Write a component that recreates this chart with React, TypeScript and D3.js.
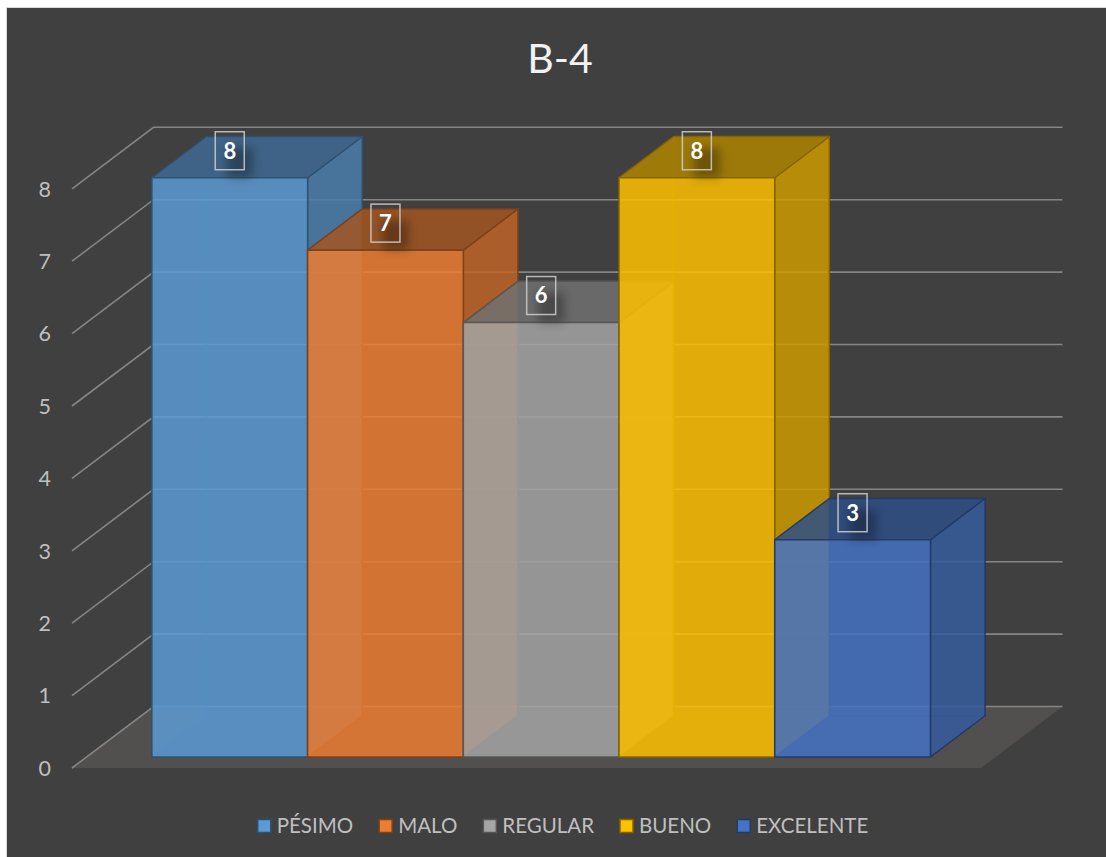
import React, { useEffect, useRef } from "react";
import * as d3 from "d3";

const categories = ["PÉSIMO", "MALO", "REGULAR", "BUENO", "EXCELENTE"];
const values = [8, 7, 6, 8, 3];
const yTicks = [0, 1, 2, 3, 4, 5, 6, 7, 8];
const title = "B-4";
const accents = ["#5B9BD5", "#ED7D31", "#A5A5A5", "#FFC000", "#4472C4"];

const W = 1106;
const H = 857;
const DX = 81.5;
const DY = 61.5;
const Z0 = 0.18;
const Z1 = 0.85;
const FONT = "Lato, 'Open Sans', sans-serif";

function shade(c: string, k: number) {
  const r = d3.rgb(c);
  return d3.rgb(r.r * k, r.g * k, r.b * k).formatHex();
}

export default function App() {
  const ref = useRef<SVGSVGElement>(null);

  useEffect(() => {
    const svg = d3.select(ref.current);
    svg.selectAll("*").remove();

    const defs = svg.append("defs");
    defs
      .append("filter")
      .attr("id", "blur")
      .attr("x", "-50%")
      .attr("y", "-50%")
      .attr("width", "200%")
      .attr("height", "200%")
      .append("feGaussianBlur")
      .attr("stdDeviation", 5);

    // chart area
    svg
      .append("rect")
      .attr("x", 6.5)
      .attr("y", 7.5)
      .attr("width", W)
      .attr("height", H)
      .attr("fill", "#404040")
      .attr("stroke", "#d9d9d9")
      .attr("stroke-width", 1);

    const x = d3
      .scaleBand<string>()
      .domain(categories)
      .range([72, 981])
      .paddingInner(0)
      .paddingOuter(0.419);
    const y = d3.scaleLinear().domain([0, 8]).range([768, 768 - 8 * 72.4]);
    const [xmin, xmax] = x.range();
    const proj = (px: number, v: number, z: number): [number, number] => [
      px + z * DX,
      y(v) - z * DY,
    ];
    const poly = (pts: [number, number][]) =>
      "M" + pts.map((p) => p.join(",")).join("L") + "Z";

    // floor
    svg
      .append("path")
      .attr(
        "d",
        poly([proj(xmin, 0, 0), proj(xmax, 0, 0), proj(xmax, 0, 1), proj(xmin, 0, 1)])
      )
      .attr("fill", "#524f4f");

    // gridlines
    const line = d3.line();
    svg
      .append("g")
      .selectAll("path")
      .data(yTicks)
      .join("path")
      .attr("d", (t) =>
        line([proj(xmin, t, 0), proj(xmin, t, 1), proj(xmax, t, 1)])
      )
      .attr("fill", "none")
      .attr("stroke", "#858585")
      .attr("stroke-width", 1.6);

    // y labels
    svg
      .append("g")
      .selectAll("text")
      .data(yTicks)
      .join("text")
      .attr("x", 51)
      .attr("y", (t) => y(t))
      .attr("dy", "0.36em")
      .attr("text-anchor", "end")
      .attr("font-family", FONT)
      .attr("font-size", 21.5)
      .attr("fill", "#bfbfbf")
      .text((t) => String(t));

    // bars
    categories.forEach((c, i) => {
      const v = values[i];
      const x0 = x(c)!;
      const x1 = x0 + x.bandwidth();
      const acc = accents[i];
      const g = svg.append("g");
      const P = (px: number, pv: number, z: number) => proj(px, pv, z);
      const faces: { pts: [number, number][]; fill: string; op: number; so: number }[] = [
        { pts: [P(x0, 0, Z1), P(x1, 0, Z1), P(x1, v, Z1), P(x0, v, Z1)], fill: shade(acc, 0.8), op: 0.12, so: 0.35 },
        { pts: [P(x0, 0, Z0), P(x0, 0, Z1), P(x0, v, Z1), P(x0, v, Z0)], fill: shade(acc, 0.9), op: 0.12, so: 0.35 },
        { pts: [P(x0, 0, Z0), P(x1, 0, Z0), P(x1, 0, Z1), P(x0, 0, Z1)], fill: shade(acc, 0.8), op: 0.12, so: 0.35 },
        { pts: [P(x1, 0, Z0), P(x1, 0, Z1), P(x1, v, Z1), P(x1, v, Z0)], fill: shade(acc, 0.8), op: 0.83, so: 0.95 },
        { pts: [P(x0, v, Z0), P(x1, v, Z0), P(x1, v, Z1), P(x0, v, Z1)], fill: shade(acc, 0.68), op: 0.83, so: 0.95 },
        { pts: [P(x0, 0, Z0), P(x1, 0, Z0), P(x1, v, Z0), P(x0, v, Z0)], fill: acc, op: 0.83, so: 0.95 },
      ];
      g.selectAll("path")
        .data(faces)
        .join("path")
        .attr("d", (f) => poly(f.pts))
        .attr("fill", (f) => f.fill)
        .attr("fill-opacity", (f) => f.op)
        .attr("stroke", shade(acc, 0.52))
        .attr("stroke-opacity", (f) => f.so)
        .attr("stroke-width", 1.5)
        .attr("stroke-linejoin", "round");
    });

    // data labels
    categories.forEach((c, i) => {
      const v = values[i];
      const cx = x(c)! + x.bandwidth() / 2 + Z0 * DX;
      const cy = y(v) - Z0 * DY - 27;
      const g = svg.append("g");
      g.append("rect")
        .attr("x", cx - 12 + 9)
        .attr("y", cy - 15 + 12)
        .attr("width", 26)
        .attr("height", 30)
        .attr("fill", "#000")
        .attr("opacity", 0.3)
        .attr("filter", "url(#blur)");
      g.append("rect")
        .attr("x", cx - 14.5)
        .attr("y", cy - 19)
        .attr("width", 29)
        .attr("height", 38)
        .attr("fill", "none")
        .attr("stroke", "#cfcfcf")
        .attr("stroke-opacity", 0.85)
        .attr("stroke-width", 1.5);
      g.append("text")
        .attr("x", cx)
        .attr("y", cy)
        .attr("dy", "0.36em")
        .attr("text-anchor", "middle")
        .attr("font-family", FONT)
        .attr("font-weight", 700)
        .attr("font-size", 22)
        .attr("fill", "#ffffff")
        .text(String(v));
    });

    // title
    svg
      .append("text")
      .attr("x", 560)
      .attr("y", 73)
      .attr("text-anchor", "middle")
      .attr("font-family", FONT)
      .attr("font-size", 41)
      .attr("fill", "#f2f2f2")
      .text(title);

    // legend
    const lg = svg.append("g");
    const items = categories.map((c, i) => {
      const it = lg.append("g");
      it.append("rect")
        .attr("x", 0)
        .attr("y", -13.5)
        .attr("width", 13)
        .attr("height", 13)
        .attr("fill", accents[i])
        .attr("stroke", shade(accents[i], 0.52))
        .attr("stroke-width", 1.5);
      const t = it
        .append("text")
        .attr("x", 19)
        .attr("y", 0)
        .attr("font-family", FONT)
        .attr("font-size", 20.5)
        .attr("fill", "#bfbfbf")
        .text(c);
      const w = (t.node() as SVGTextElement).getComputedTextLength();
      return { it, w: 19 + w };
    });
    const gap = 26;
    const total = d3.sum(items, (d) => d.w) + gap * (items.length - 1);
    let cur = 563 - total / 2;
    items.forEach((d) => {
      d.it.attr("transform", `translate(${cur},833)`);
      cur += d.w + gap;
    });
  }, []);

  return (
    <svg
      ref={ref}
      width={W}
      height={H}
      style={{ position: "absolute", left: 0, top: 0, background: "#fff" }}
    />
  );
}
